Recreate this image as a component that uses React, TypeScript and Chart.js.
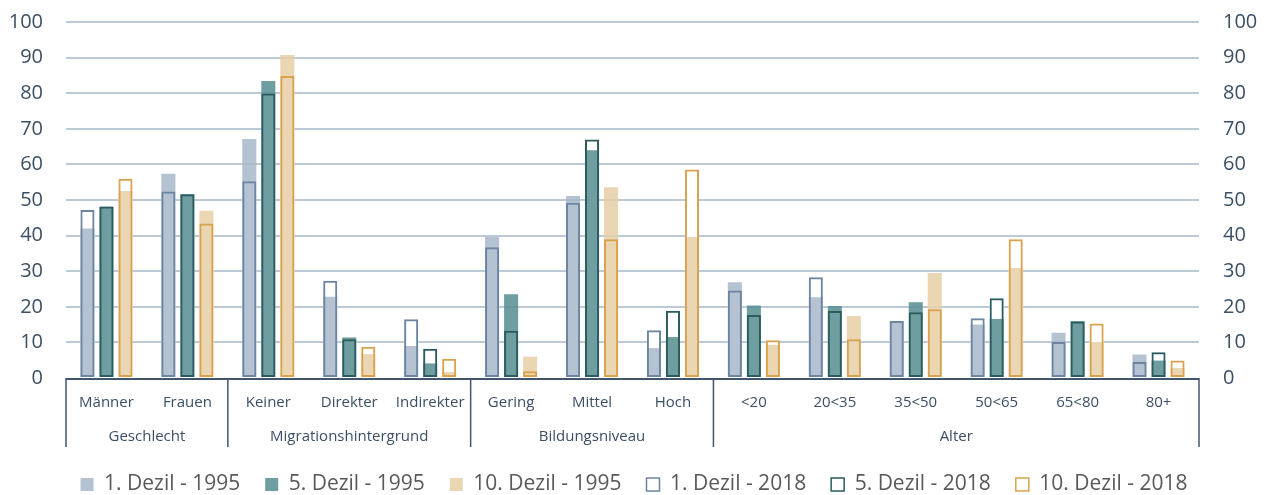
import React, { useEffect, useRef } from 'react';
import { Chart, registerables } from 'chart.js';

Chart.register(...registerables);

// ---- data ----
const categories = ['Männer', 'Frauen', 'Keiner', 'Direkter', 'Indirekter', 'Gering', 'Mittel', 'Hoch', '<20', '20<35', '35<50', '50<65', '65<80', '80+'];
const groupLabels = ['Geschlecht', 'Migrationshintergrund', 'Bildungsniveau', 'Alter'];
const groupSizes = [2, 3, 3, 6];

const labels1995 = ['1. Dezil - 1995', '5. Dezil - 1995', '10. Dezil - 1995'];
const labels2018 = ['1. Dezil - 2018', '5. Dezil - 2018', '10. Dezil - 2018'];

const dezil1_1995 = [42.0, 57.4, 67.1, 22.8, 9.0, 39.6, 51.1, 8.4, 26.9, 22.7, 16.0, 15.0, 12.7, 6.6];
const dezil5_1995 = [48.1, 51.6, 83.4, 11.4, 4.1, 23.5, 64.0, 11.5, 20.4, 20.2, 21.3, 16.6, 16.0, 4.9];
const dezil10_1995 = [52.5, 47.0, 90.7, 6.7, 1.7, 6.0, 53.6, 39.6, 9.3, 17.4, 29.5, 30.9, 10.1, 2.8];

const dezil1_2018 = [47.2, 52.4, 55.3, 27.3, 16.5, 36.7, 49.2, 13.4, 24.6, 28.3, 16.0, 16.8, 10.1, 4.5];
const dezil5_2018 = [48.2, 51.6, 79.9, 10.9, 8.2, 13.3, 67.0, 18.9, 17.7, 18.8, 18.5, 22.4, 15.9, 7.2];
const dezil10_2018 = [56.0, 43.4, 84.8, 8.8, 5.4, 1.9, 39.0, 58.6, 10.6, 10.9, 19.3, 39.0, 15.3, 4.9];

const yMin = 0;
const yMax = 100;
const yStep = 10;

// ---- styles ----
const FILL_1995 = ['rgba(167,183,201,0.85)', 'rgba(86,141,144,0.85)', 'rgba(232,207,167,0.85)'];
const LEGEND_FILL_1995 = ['#b4c2d1', '#6f9ea1', '#ebd6b4'];
const LINE_2018 = ['#6d85a2', '#2c5b60', '#d9a24f'];
const STACK_IDS = ['d1', 'd5', 'd10'];
const TEXT = '#3b4f66';
const LEGEND_TEXT = '#595959';
const GRID = '#bccad8';
const AXIS_LINE = '#41566c';
const FONT = "'Open Sans', sans-serif";

const CAT_PCT = 0.705;
const BAR_PCT = 0.74;

const groupAxisPlugin = {
  id: 'groupAxis',
  afterLayout(chart: any) {
    const lg = chart.legend;
    if (lg) {
      lg.top += 10;
      lg.bottom += 10;
    }
  },
  afterDraw(chart: any) {
    const { ctx, chartArea, scales } = chart;
    const xs = scales.x;
    const bottom = chartArea.bottom;
    ctx.save();
    ctx.strokeStyle = AXIS_LINE;
    ctx.lineWidth = 2;
    ctx.beginPath();
    ctx.moveTo(chartArea.left, bottom + 1);
    ctx.lineTo(chartArea.right, bottom + 1);
    ctx.stroke();

    const bounds: number[] = [chartArea.left];
    let idx = 0;
    groupSizes.forEach((n) => {
      idx += n;
      if (idx >= categories.length) bounds.push(chartArea.right);
      else bounds.push((xs.getPixelForValue(idx - 1) + xs.getPixelForValue(idx)) / 2);
    });
    ctx.lineWidth = 1.5;
    bounds.forEach((b) => {
      ctx.beginPath();
      ctx.moveTo(b, bottom);
      ctx.lineTo(b, bottom + 69);
      ctx.stroke();
    });

    ctx.font = `15px ${FONT}`;
    ctx.fillStyle = TEXT;
    ctx.textAlign = 'center';
    ctx.textBaseline = 'middle';
    groupLabels.forEach((g, i) => {
      ctx.fillText(g, (bounds[i] + bounds[i + 1]) / 2, bottom + 59);
    });
    ctx.restore();
  },
};

export default function App() {
  const canvasRef = useRef<HTMLCanvasElement | null>(null);

  useEffect(() => {
    document.body.style.margin = '0';
    document.body.style.overflow = 'hidden';
    const canvas = canvasRef.current;
    if (!canvas) return;

    const data1995 = [dezil1_1995, dezil5_1995, dezil10_1995];
    const data2018 = [dezil1_2018, dezil5_2018, dezil10_2018];

    const common = { categoryPercentage: CAT_PCT, barPercentage: BAR_PCT };

    const whites = data2018.map((d, i) => ({
      ...common,
      label: labels2018[i] + ' bg',
      data: d,
      stack: STACK_IDS[i],
      backgroundColor: '#ffffff',
      borderWidth: 0,
      order: 2,
    }));
    const fills = data1995.map((d, i) => ({
      ...common,
      label: labels1995[i],
      data: d,
      stack: STACK_IDS[i],
      backgroundColor: FILL_1995[i],
      borderWidth: 0,
      order: 1,
    }));
    const outlines = data2018.map((d, i) => ({
      ...common,
      label: labels2018[i],
      data: d,
      stack: STACK_IDS[i],
      backgroundColor: 'rgba(0,0,0,0)',
      borderColor: LINE_2018[i],
      borderWidth: 2,
      borderSkipped: false,
      order: 0,
    }));

    const yTickFont = { family: FONT, size: 20 };

    const chart = new Chart(canvas, {
      type: 'bar',
      data: {
        labels: categories,
        datasets: [...whites, ...fills, ...outlines] as any,
      },
      options: {
        animation: false,
        responsive: false,
        devicePixelRatio: 1,
        events: [],
        layout: { padding: { top: 22, left: 0, right: 0, bottom: 0 } },
        plugins: {
          tooltip: { enabled: false },
          title: { display: false },
          legend: {
            display: true,
            position: 'bottom',
            align: 'center',
            labels: {
              boxWidth: 13,
              boxHeight: 13,
              padding: 25,
              font: { family: FONT, size: 21 },
              color: LEGEND_TEXT,
              generateLabels: () => {
                const items: any[] = [];
                labels1995.forEach((t, i) =>
                  items.push({
                    text: t,
                    fillStyle: LEGEND_FILL_1995[i],
                    strokeStyle: LEGEND_FILL_1995[i],
                    lineWidth: 0,
                    hidden: false,
                    datasetIndex: 3 + i,
                    fontColor: LEGEND_TEXT,
                  })
                );
                labels2018.forEach((t, i) =>
                  items.push({
                    text: t,
                    fillStyle: '#ffffff',
                    strokeStyle: LINE_2018[i],
                    lineWidth: 1.5,
                    hidden: false,
                    datasetIndex: 6 + i,
                    fontColor: LEGEND_TEXT,
                  })
                );
                return items;
              },
            },
          },
        },
        scales: {
          x: {
            type: 'category',
            position: 'bottom',
            offset: true,
            grid: { display: false, drawTicks: false },
            border: { display: false },
            ticks: {
              autoSkip: false,
              maxRotation: 0,
              minRotation: 0,
              padding: 16,
              color: TEXT,
              font: { family: FONT, size: 15 },
            },
            afterFit: (s: any) => {
              s.height = 61;
            },
          },
          y: {
            type: 'linear',
            position: 'left',
            stacked: false,
            min: yMin,
            max: yMax,
            ticks: { stepSize: yStep, padding: 23, color: TEXT, font: yTickFont },
            grid: {
              drawTicks: false,
              lineWidth: 2,
              color: (c: any) => (c.tick && c.tick.value === 0 ? 'rgba(0,0,0,0)' : GRID),
            },
            border: { display: false },
            afterFit: (s: any) => {
              s.width = 66;
              s.paddingTop = 0;
              s.paddingBottom = 0;
            },
          },
          y2: {
            type: 'linear',
            position: 'right',
            stacked: false,
            min: yMin,
            max: yMax,
            ticks: { stepSize: yStep, padding: 24, color: TEXT, font: yTickFont },
            grid: { display: false, drawTicks: false },
            border: { display: false },
            afterFit: (s: any) => {
              s.width = 69;
              s.paddingTop = 0;
              s.paddingBottom = 0;
            },
          },
        },
      } as any,
      plugins: [groupAxisPlugin],
    });

    return () => chart.destroy();
  }, []);

  return <canvas ref={canvasRef} width={1268} height={495} style={{ display: 'block' }} />;
}
